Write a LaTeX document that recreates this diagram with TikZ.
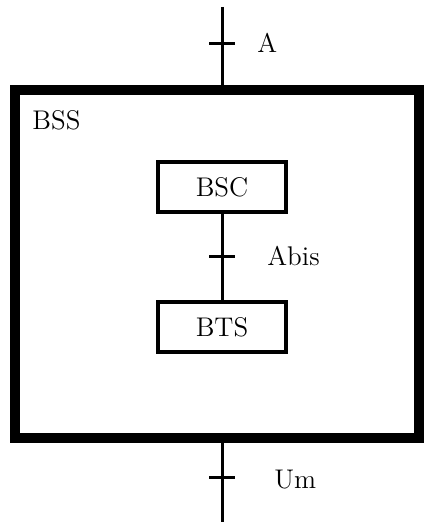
\documentclass[tikz,border=0pt]{standalone}
\begin{document}
\begin{tikzpicture}[x=0.5pt,y=-0.5pt,
  lbl/.style={font=\fontsize{13.5}{16}\selectfont, inner sep=0pt},
  unit/.style={draw, line width=1.6pt, minimum width=64pt, minimum height=25pt,
    inner sep=0pt, font=\fontsize{13.5}{16}\selectfont},
  link/.style={line width=1.5pt},
  tick/.style={line width=1.5pt}]
\useasboundingbox (0,0) rectangle (424,522);
% BSS frame
\draw[line width=5pt] (15,90) rectangle (419,438);
\node[lbl, anchor=base west] (bss) at (32,130) {BSS};
% inner units
\node[unit] (bsc) at (222,187) {BSC};
\node[unit] (bts) at (222,327) {BTS};
% interfaces
\coordinate (top) at (222,7);
\coordinate (bottom) at (222,522);
\coordinate (frametop) at (222,90);
\coordinate (framebot) at (222,438);
\draw[link] (top) -- (frametop);
\draw[link] (bsc) -- (bts);
\draw[link] (framebot) -- (bottom);
\draw[tick] (209,44) -- (235,44);
\draw[tick] (209,257) -- (235,257);
\draw[tick] (209,477) -- (235,477);
\node[lbl, anchor=base west] (a) at (257,53) {A};
\node[lbl, anchor=base west] (abis) at (267,266) {Abis};
\node[lbl, anchor=base west] (um) at (274,488) {Um};
\end{tikzpicture}
\end{document}
